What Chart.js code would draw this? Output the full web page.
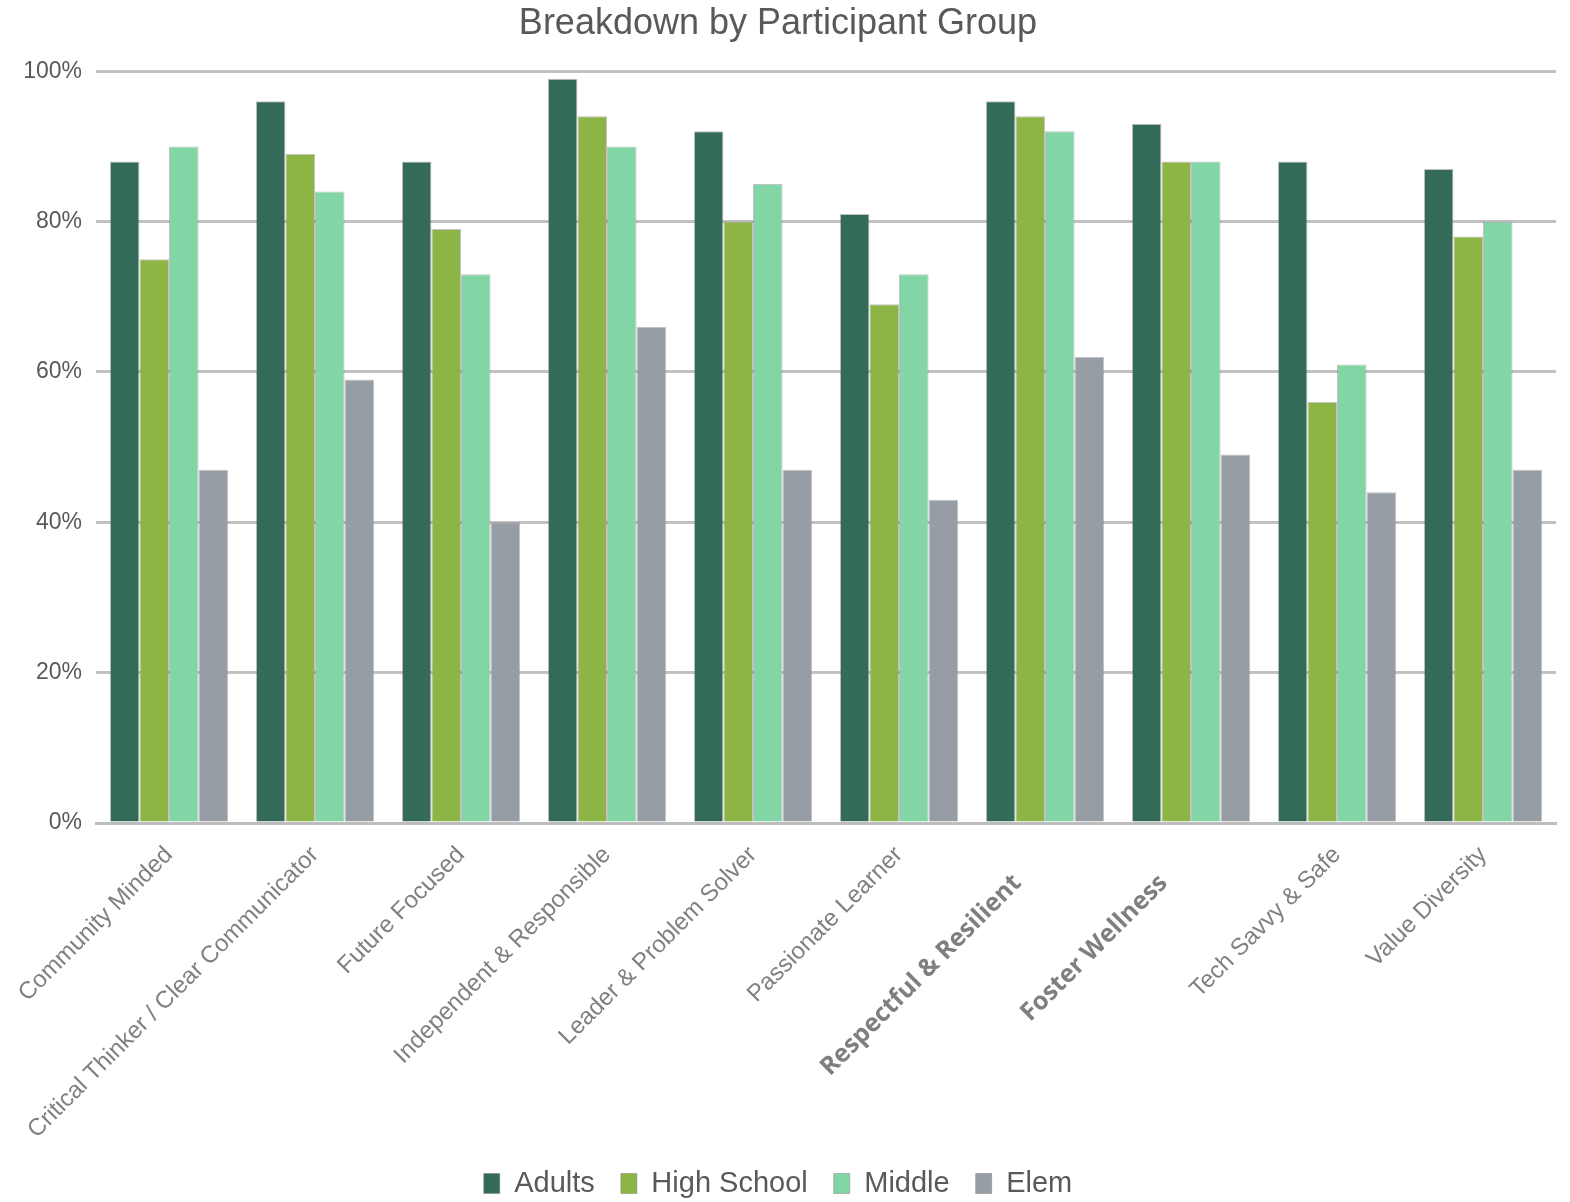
<!DOCTYPE html>
<html>
<head>
<meta charset="utf-8">
<script src="https://cdn.jsdelivr.net/npm/chart.js@4.4.1/dist/chart.umd.min.js"></script>
<style>
  html, body { margin: 0; padding: 0; background: #fff; }
  #wrap { width: 1570px; height: 1202px; }
</style>
</head>
<body>
<div id="wrap"><canvas id="groupChart" width="1570" height="1202"></canvas></div>
<script>
// Data for chart
const categories = [
    'Community Minded',
    'Critical Thinker / Clear Communicator',
    'Future Focused',
    'Independent & Responsible',
    'Leader & Problem Solver',
    'Passionate Learner',
    'Respectful & Resilient',
    'Foster Wellness',
    'Tech Savvy & Safe',
    'Value Diversity'
];
const adults     = [88, 96, 88, 99, 92, 81, 96, 93, 88, 87];
const highSchool = [75, 89, 79, 94, 80, 69, 94, 88, 56, 78];
const middle     = [90, 84, 73, 90, 85, 73, 92, 88, 61, 80];
const elem       = [47, 59, 40, 66, 47, 43, 62, 49, 44, 47];
const yTicks = [0, 20, 40, 60, 80, 100];

// the two labels that were edited in bold
const boldLabels = [6, 7];

const makeSet = (label, data, color) => ({
    label: label,
    data: data,
    backgroundColor: color,
    borderColor: 'rgba(120, 120, 120, 0.45)',
    borderWidth: 1,
    categoryPercentage: 0.81,
    barPercentage: 1.0
});

const ctx = document.getElementById('groupChart').getContext('2d');
const chart = new Chart(ctx, {
    type: 'bar',
    data: {
        // trailing spaces push the bold labels down-left like in the source
        labels: categories.map((c, i) => boldLabels.includes(i) ? c + '      ' : c),
        datasets: [
            makeSet('Adults', adults, '#346a58'),
            makeSet('High School', highSchool, '#8cb545'),
            makeSet('Middle', middle, '#82d5a5'),
            makeSet('Elem', elem, '#979da4')
        ]
    },
    options: {
        responsive: false,
        animation: false,
        devicePixelRatio: 1,
        layout: { padding: { left: 0, right: 14, top: 0, bottom: -6 } },
        scales: {
            x: {
                grid: { display: false, drawTicks: false },
                border: { color: '#bdbdbd', width: 3 },
                ticks: {
                    autoSkip: false,
                    minRotation: 45,
                    maxRotation: 45,
                    padding: 18,
                    color: (c) => boldLabels.includes(c.index) ? '#7f7f7f' : '#808080',
                    font: (c) => boldLabels.includes(c.index)
                        ? { family: 'Open Sans', size: 25, weight: 'bold' }
                        : { family: 'Liberation Sans', size: 24 }
                },
                afterFit: (scale) => { scale.height = 320; }
            },
            y: {
                min: 0,
                max: 100,
                afterBuildTicks: (scale) => { scale.ticks = yTicks.map(v => ({ value: v })); },
                grid: { color: '#c2c2c2', lineWidth: 3, drawTicks: false },
                border: { display: false },
                ticks: {
                    padding: 14,
                    color: '#595959',
                    font: { family: 'Liberation Sans', size: 23 },
                    callback: (v) => v + '%'
                },
                afterFit: (scale) => { scale.width = 96; }
            }
        },
        plugins: {
            title: {
                display: true,
                text: 'Breakdown by Participant Group',
                color: '#595959',
                font: { family: 'Liberation Sans', size: 36, weight: 'normal' },
                padding: { top: 2, bottom: 26 }
            },
            legend: {
                position: 'bottom',
                labels: {
                    color: '#595959',
                    font: { family: 'Liberation Sans', size: 29 },
                    boxWidth: 16,
                    boxHeight: 20,
                    padding: 26
                }
            },
            tooltip: { enabled: false }
        }
    }
});
</script>
</body>
</html>
